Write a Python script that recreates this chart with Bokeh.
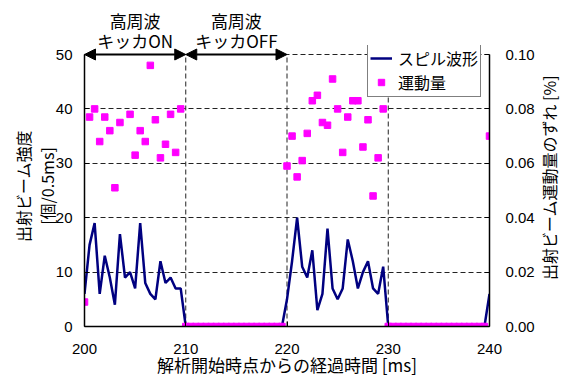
import numpy as np
from bokeh.plotting import figure
from bokeh.models import (Range1d, LinearAxis, SingleIntervalTicker, FixedTicker,
                          NumeralTickFormatter, Arrow, NormalHead, Legend, LegendItem)
from bokeh.embed import file_html
from bokeh.resources import INLINE

# ---- data ----
time_ms = np.arange(200, 240.5, 0.5)

spill = ([6, 15, 19, 6, 13, 9, 4, 17, 9, 10, 7, 19, 8, 6, 5, 12, 8, 9, 7, 7, 0]
         + [0] * 19
         + [5, 12, 20, 11, 9, 14, 3, 6, 18, 7, 5, 7, 16, 12, 7, 10, 12, 7, 6, 11, 0]
         + [0] * 19
         + [6])

momentum = ([0.009, 0.077, 0.080, 0.068, 0.077, 0.072, 0.051, 0.075, np.nan, 0.078,
             0.063, 0.072, 0.068, 0.096, 0.076, 0.062, 0.067, 0.078, 0.064, 0.080]
            + [0.0] * 20
            + [0.059, 0.070, 0.055, 0.061, 0.071, 0.083, 0.085, 0.075, 0.074, 0.091,
               0.080, 0.064, 0.077, 0.083, 0.083, 0.066, 0.076, 0.048, 0.062, 0.080]
            + [0.0] * 20
            + [0.070])

x_ticks_interval = 10
y_left_interval = 10
y_right_interval = 0.02
x_grid_positions = [210, 220, 230]
x_start, x_end = 200, 240
y_left_max = 50
y_right_max = 0.1

# periods shown with arrows and their headers
periods = [(200, 210), (210, 220)]
period_centers = [205, 215]
header_labels = {205: "高周波\nキッカON", 215: "高周波\nキッカOFF"}

# right-hand title (drawn as a rotated label that starts at this momentum level)
right_title = "出射ビーム運動量のずれ [%]"
right_title_start = 0.0171

jp = "Noto Sans CJK JP"
num_font = "Liberation Sans"

plot_h = 272           # pixel height of the 0..50 span
ext_px = 9             # headroom above the top (arrowheads, legend)
y_top = y_left_max * (plot_h + ext_px) / plot_h
mom_top = y_right_max * y_top / y_left_max

p = figure(frame_width=405, frame_height=plot_h + ext_px,
           x_range=Range1d(x_start, x_end), y_range=Range1d(0, y_top),
           output_backend="svg", toolbar_location=None,
           min_border_left=84, min_border_right=72, min_border_top=54 - ext_px,
           min_border_bottom=52)
p.outline_line_color = None
p.background_fill_color = "white"
p.border_fill_color = "white"

p.extra_y_ranges = {"mom": Range1d(0, mom_top)}


def style_axis(ax):
    ax.major_tick_in = 5
    ax.major_tick_out = 0
    ax.minor_tick_line_color = None
    ax.axis_line_color = "black"
    ax.axis_line_width = 1.5
    ax.major_tick_line_color = "black"
    ax.major_label_text_font = num_font
    ax.major_label_text_font_size = "15px"
    ax.major_label_text_color = "black"
    ax.axis_label_text_font = jp
    ax.axis_label_text_font_style = "normal"
    ax.axis_label_text_color = "black"


def bare_axis(ax):
    ax.axis_line_color = None
    ax.major_tick_line_color = None
    ax.minor_tick_line_color = None
    ax.major_tick_out = 0
    ax.major_tick_in = 0


# bottom axis
xa = p.xaxis[0]
xa.ticker = SingleIntervalTicker(interval=x_ticks_interval)
style_axis(xa)
xa.major_label_standoff = 13
xa.axis_label = "解析開始時点からの経過時間 [ms]"
xa.axis_label_text_font_size = "17px"
xa.axis_label_standoff = -5

# left axis (two-line title)
ya = p.yaxis[0]
ya.ticker = SingleIntervalTicker(interval=y_left_interval)
style_axis(ya)
ya.bounds = (0, y_left_max)
ya.major_label_standoff = 8
ya.axis_label = "出射ビーム強度\n[個/0.5ms]"
ya.axis_label_text_font_size = "16px"
ya.axis_label_text_line_height = 1.0
ya.axis_label_standoff = -6

# right axis (ticks)
rax = LinearAxis(y_range_name="mom", ticker=SingleIntervalTicker(interval=y_right_interval),
                 formatter=NumeralTickFormatter(format="0.00"))
style_axis(rax)
rax.bounds = (0, y_right_max)
rax.major_label_standoff = 12
p.add_layout(rax, "right")

# right title, reading bottom-to-top, as a rotated label on a label-only axis
rax2 = LinearAxis(y_range_name="mom", ticker=FixedTicker(ticks=[right_title_start]),
                  major_label_overrides={right_title_start: right_title})
bare_axis(rax2)
rax2.major_label_standoff = 12
rax2.major_label_orientation = np.pi / 2
rax2.major_label_text_font = jp
rax2.major_label_text_font_size = "16px"
rax2.major_label_text_color = "black"
p.add_layout(rax2, "right")

# header texts as a label-only axis above the plot
ta = LinearAxis(ticker=FixedTicker(ticks=period_centers), major_label_overrides=header_labels)
bare_axis(ta)
ta.major_label_standoff = -7
ta.major_label_text_font = jp
ta.major_label_text_font_size = "17px"
ta.major_label_text_line_height = 0.8
ta.major_label_text_color = "black"
p.add_layout(ta, "above")

# grid
p.xgrid.visible = False
p.ygrid.ticker = SingleIntervalTicker(interval=y_left_interval)
p.ygrid.grid_line_color = "#222222"
p.ygrid.grid_line_dash = "5 3"
p.ygrid.grid_line_width = 1
p.segment(x0=x_grid_positions, y0=[0] * len(x_grid_positions),
          x1=x_grid_positions, y1=[y_left_max] * len(x_grid_positions),
          line_color="#222222", line_dash="5 3", line_width=1)

# glyphs
r_line = p.line(time_ms, spill, line_color="#000080", line_width=2.5)
r_pts = p.scatter(time_ms, momentum, marker="square", size=6.5,
                  fill_color="#FF00FF", line_color="#FF00FF", y_range_name="mom")

# legend
legend = Legend(items=[LegendItem(label="スピル波形", renderers=[r_line]),
                       LegendItem(label="運動量", renderers=[r_pts])],
                location=(283, 229))
legend.label_text_font = jp
legend.label_text_font_size = "16px"
legend.label_text_color = "black"
legend.border_line_color = "black"
legend.border_line_width = 1
legend.background_fill_alpha = 1
legend.padding = 2
legend.spacing = 0
legend.margin = 0
legend.glyph_width = 22
legend.glyph_height = 16
legend.label_height = 16
legend.label_standoff = 6
p.add_layout(legend)

# arrows
for xs, xe in periods:
    p.add_layout(Arrow(start=NormalHead(size=11, fill_color="black", line_color="black"),
                       end=NormalHead(size=11, fill_color="black", line_color="black"),
                       x_start=xs, y_start=y_left_max, x_end=xe, y_end=y_left_max,
                       line_color="black", line_width=2))

open("out.html", "w").write(file_html(p, INLINE))
